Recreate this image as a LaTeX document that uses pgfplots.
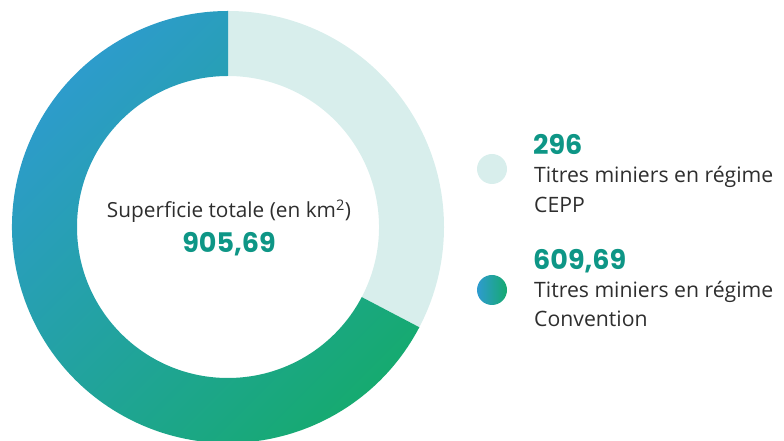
\documentclass[border=0pt]{standalone}
\usepackage{pgfplots}
\usepackage{pgfplotstable}
\pgfplotsset{compat=1.18}
\usepackage{fontspec}
\setmainfont{Open Sans}
\newfontfamily\numfont{Poppins}[UprightFont=* SemiBold, BoldFont=* Bold]
\definecolor{lightseg}{HTML}{D8EEEC}
\definecolor{gblue}{HTML}{2E9BCF}
\definecolor{ggreen}{HTML}{16AA70}
\definecolor{teal}{HTML}{0E9686}
\definecolor{txt}{HTML}{2E2E2E}
\pgfplotstableread{
label value
CEPP 296
Convention 609.69
}\datatable
\begin{document}
\begin{tikzpicture}
\path[use as bounding box, clip] (0,0) rectangle (784pt,441pt);
\pgfplotstablegetelem{0}{value}\of\datatable \let\va\pgfplotsretval
\pgfplotstablegetelem{1}{value}\of\datatable \let\vb\pgfplotsretval
\pgfmathsetmacro{\frac}{\va/(\va+\vb)}
\pgfmathsetmacro{\enda}{90-360*\frac}
\begin{axis}[at={(0,0)},anchor=south west,x=1pt,y=1pt,xmin=0,xmax=784,ymin=0,ymax=441,hide axis,clip=true,
  axis line style={draw=none}]
% CEPP segment
\fill[lightseg] (axis cs:228,214) ++(90:216) arc[start angle=90,end angle=\enda,radius=216]
   -- ++(\enda:-65) arc[start angle=\enda,end angle=90,radius=151] -- cycle;
% Convention segment
\shade[top color=gblue,bottom color=ggreen,shading angle=45]
   (axis cs:228,214) ++(\enda:216) arc[start angle=\enda,end angle=-270,radius=216]
   -- ++(90:-65) arc[start angle=-270,end angle=\enda,radius=151] -- cycle;
% legend markers
\fill[lightseg] (axis cs:492,272) circle[radius=15];
\shade[left color=gblue,right color=ggreen] (axis cs:492,151) circle[radius=15];
% center text
\node[anchor=base,text=txt,font=\fontsize{20.8}{24}\selectfont,inner sep=0pt] at (axis cs:229,223) {Superficie totale (en km\textsuperscript{2})};
\node[anchor=base,text=teal,font=\numfont\bfseries\fontsize{27}{30}\selectfont,inner sep=0pt] at (axis cs:229,188) {905,69};
% legend texts
\node[anchor=base west,text=teal,font=\numfont\bfseries\fontsize{27}{30}\selectfont,inner sep=0pt] at (axis cs:533,286) {296};
\node[anchor=base west,text=txt,font=\fontsize{21.2}{24}\selectfont,inner sep=0pt] at (axis cs:534,258) {Titres miniers en régime};
\node[anchor=base west,text=txt,font=\fontsize{21.2}{24}\selectfont,inner sep=0pt] at (axis cs:534,228) {CEPP};
\node[anchor=base west,text=teal,font=\numfont\bfseries\fontsize{27}{30}\selectfont,inner sep=0pt] at (axis cs:533,171) {609,69};
\node[anchor=base west,text=txt,font=\fontsize{21.2}{24}\selectfont,inner sep=0pt] at (axis cs:534,143) {Titres miniers en régime};
\node[anchor=base west,text=txt,font=\fontsize{21.2}{24}\selectfont,inner sep=0pt] at (axis cs:534,114) {Convention};
\end{axis}
\end{tikzpicture}
\end{document}
